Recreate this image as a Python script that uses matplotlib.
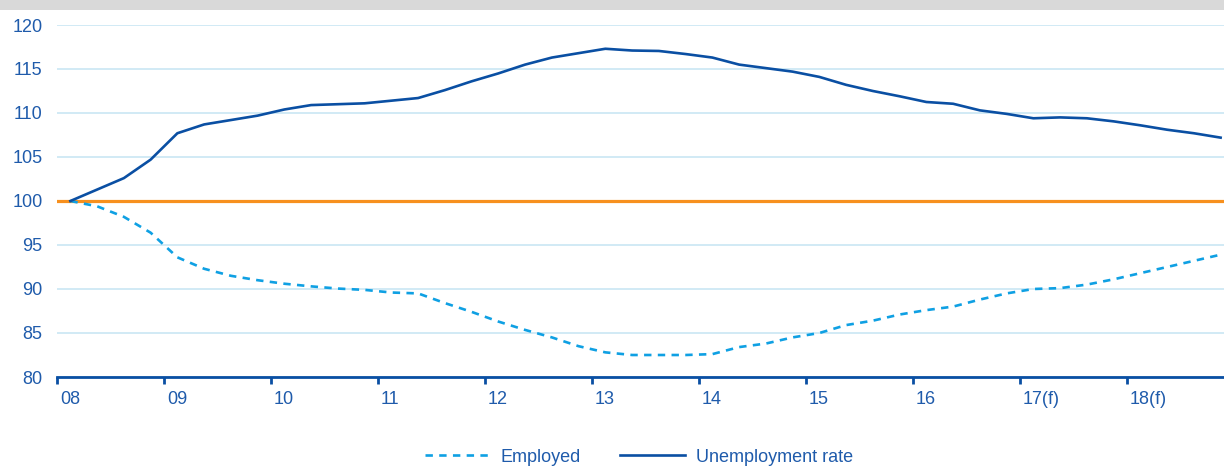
import matplotlib
matplotlib.use("Agg")
import matplotlib.pyplot as plt
import matplotlib.transforms as mtransforms

plt.rcParams['font.family'] = ['Liberation Sans', 'DejaVu Sans']

# quarterly index, 2008Q1 = 100
year_labels = ['08', '09', '10', '11', '12', '13', '14', '15', '16', '17(f)', '18(f)']

unemployment = [100.0, 101.3, 102.6, 104.7, 107.7, 108.7, 109.2, 109.7, 110.4, 110.9,
                111.0, 111.1, 111.4, 111.7, 112.6, 113.6, 114.5, 115.5, 116.3, 116.8,
                117.3, 117.1, 117.05, 116.7, 116.3, 115.5, 115.1, 114.7, 114.1, 113.2,
                112.5, 111.9, 111.25, 111.05, 110.3, 109.9, 109.4, 109.5, 109.4, 109.05,
                108.6, 108.1, 107.7, 107.2]

employed = [100.0, 99.4, 98.2, 96.4, 93.6, 92.3, 91.5, 91.0, 90.6, 90.3,
            90.05, 89.9, 89.6, 89.5, 88.4, 87.4, 86.3, 85.35, 84.5, 83.5,
            82.8, 82.5, 82.5, 82.5, 82.6, 83.4, 83.8, 84.5, 85.0, 85.9,
            86.4, 87.1, 87.6, 88.0, 88.8, 89.5, 90.0, 90.1, 90.5, 91.1,
            91.8, 92.5, 93.2, 93.9]

quarters = list(range(len(unemployment)))

dark_blue = '#0a4fa3'
light_blue = '#0fa0e3'
orange = '#f7901e'
text_blue = '#1f5bab'
grid_col = '#c9e6f4'

fig = plt.figure(figsize=(12.24, 4.66), dpi=100)

# grey header band (title cut off in the source)
fig.patches.append(plt.Rectangle((0, 1 - 10 / 466), 1, 10 / 466, transform=fig.transFigure,
                                 facecolor='#d9d9d9', edgecolor='none'))

ax = fig.add_axes([57 / 1224, 89 / 466, 1177 / 1224, 352 / 466])

ax.axhline(100, color=orange, lw=2.3, zorder=2)
ax.plot(quarters, employed, color=light_blue, lw=1.9, dashes=(2.8, 2.4),
        label='Employed', zorder=3)
ax.plot(quarters, unemployment, color=dark_blue, lw=1.9, label='Unemployment rate', zorder=3)

ax.set_xlim(-0.5, len(quarters) - 0.5)
ax.set_ylim(80, 120)
ax.set_yticks(range(80, 121, 5))
ax.yaxis.grid(True, color=grid_col, lw=1.2)
ax.set_axisbelow(True)
ax.tick_params(axis='y', length=0, pad=10.5, labelsize=13, labelcolor=text_blue)

tick_pos = [i * 4 - 0.5 for i in range(len(year_labels))]
ax.set_xticks(tick_pos)
ax.set_xticklabels(year_labels)
ax.tick_params(axis='x', direction='out', length=5, width=2, color=dark_blue,
               labelsize=13, labelcolor=text_blue, pad=5)
offset = mtransforms.ScaledTranslation(3 / 100, 0, fig.dpi_scale_trans)
for lab in ax.get_xticklabels():
    lab.set_horizontalalignment('left')
    lab.set_transform(lab.get_transform() + offset)

for side in ['top', 'right', 'left']:
    ax.spines[side].set_visible(False)
ax.spines['bottom'].set_color(dark_blue)
ax.spines['bottom'].set_linewidth(2)

fig.legend(loc='center', bbox_to_anchor=(639 / 1224, 1 - 457 / 466), ncol=2, frameon=False,
           fontsize=13, handlelength=3.6, handletextpad=0.6, columnspacing=2.2,
           labelcolor=text_blue, borderaxespad=0, borderpad=0)

fig.savefig('out.png', dpi=100)
